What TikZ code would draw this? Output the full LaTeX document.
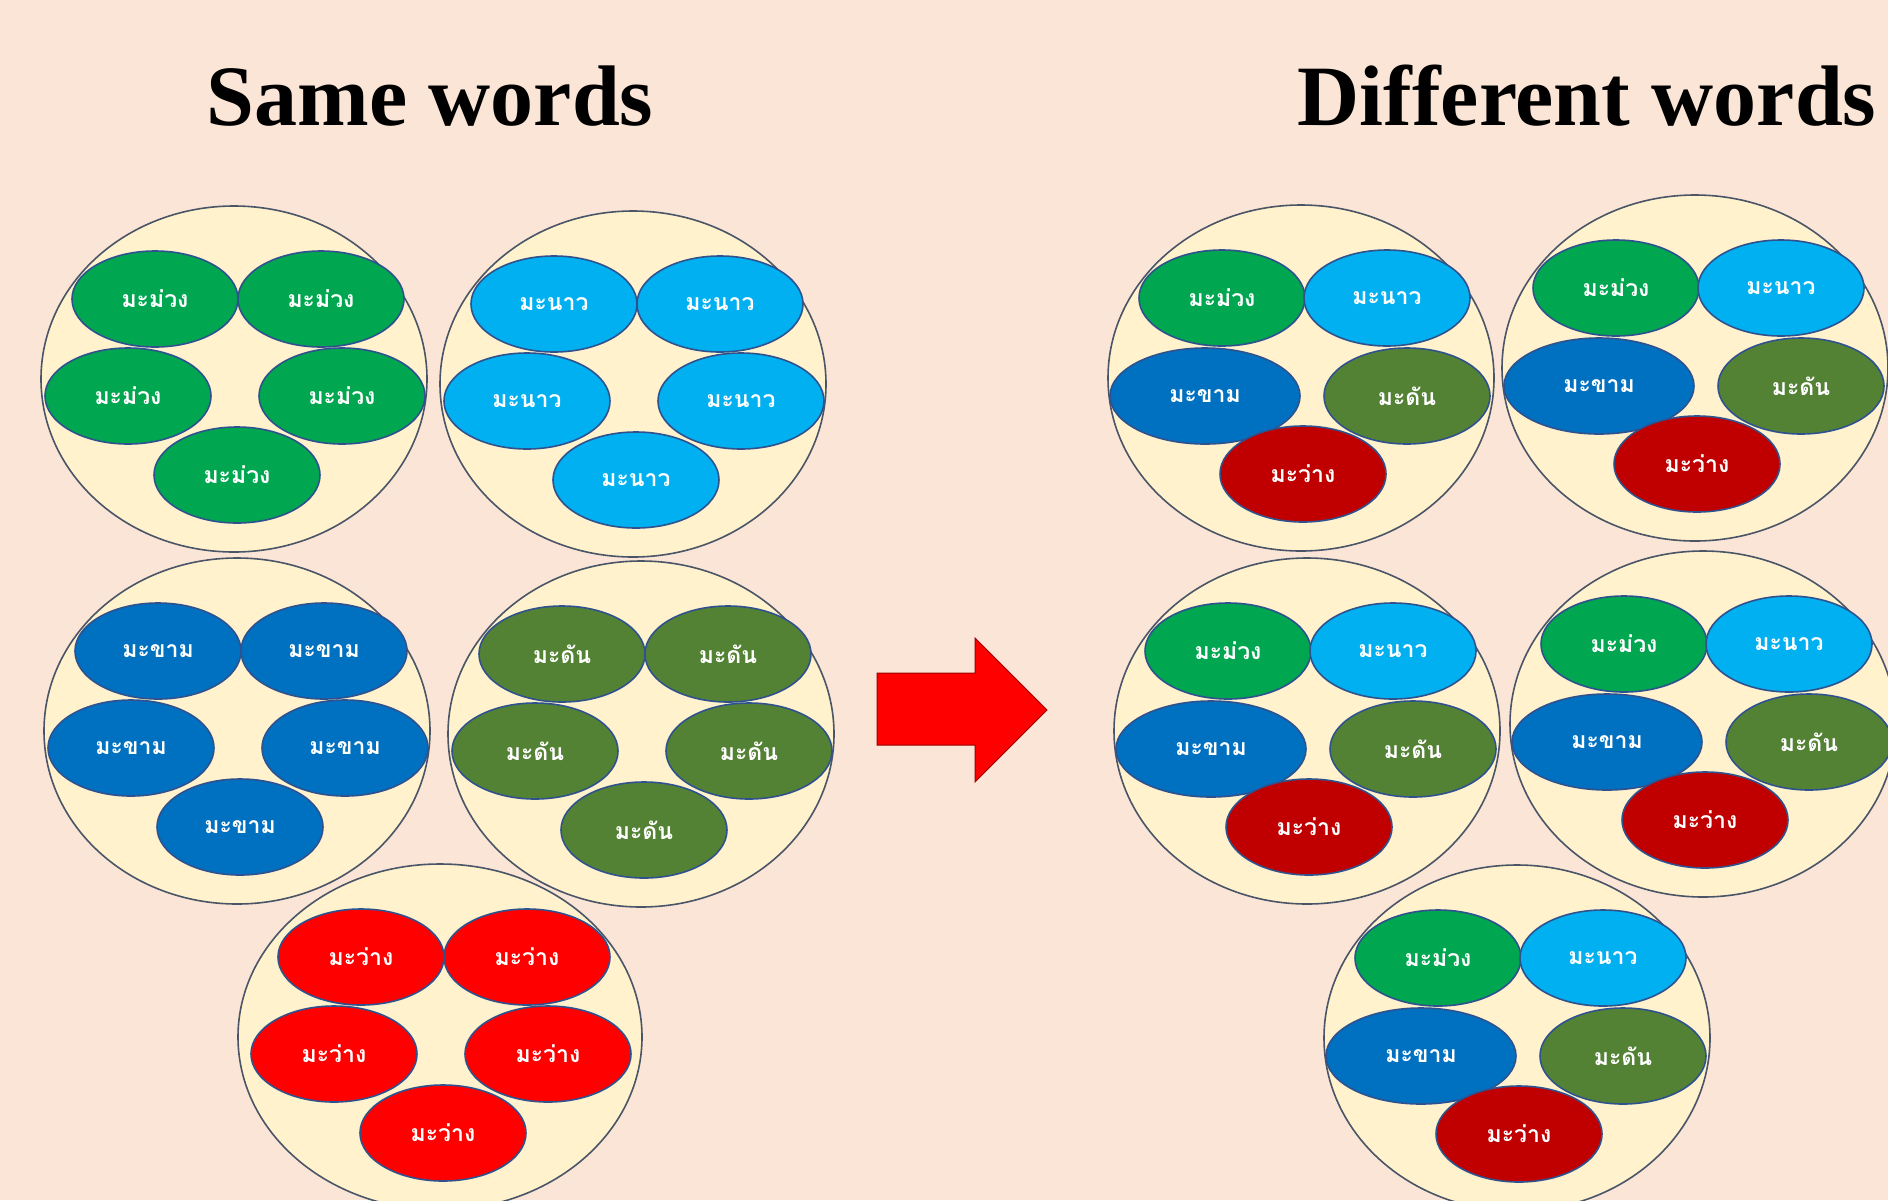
\documentclass[tikz,border=0pt]{standalone}
\usepackage{fontspec}
\setmainfont{Liberation Serif}
\newfontfamily\thaifont[Script=Thai]{Loma}
\usepackage{xcolor}
\usetikzlibrary{shapes.geometric}

\definecolor{pagebg}{HTML}{FBE5D6}
\definecolor{cream}{HTML}{FFF2CC}
\definecolor{groupline}{HTML}{4A5568}
\definecolor{fruitline}{HTML}{2F528F}
\definecolor{mango}{HTML}{00A650}
\definecolor{lime}{HTML}{00B0F0}
\definecolor{tamarind}{HTML}{0070C0}
\definecolor{madan}{HTML}{548235}
\definecolor{plum}{HTML}{FF0000}
\definecolor{darkplum}{HTML}{C00000}

\begin{document}
\begin{tikzpicture}[
  x=1pt, y=-1pt,
  every node/.style={inner sep=0pt},
  group/.style={ellipse, draw=groupline, line width=1.6pt, fill=cream, minimum width=386pt, minimum height=346pt},
  fruit/.style={ellipse, draw=fruitline, line width=1.6pt, minimum width=166pt, minimum height=96pt, text=white, font=\thaifont\bfseries\fontsize{23}{26}\selectfont},
  title/.style={font=\fontsize{86}{90}\selectfont\bfseries},
  shiftarrow/.style={fill=plum, draw=darkplum!80!black, line width=1pt},
]

\useasboundingbox (0,0) rectangle (1888,1200);
\fill[pagebg] (0,0) rectangle (1888,1200);

\node[title] (same) at (430,96) {Same words};
\node[title] (diff) at (1587,96) {Different words};

% groups of one word
\foreach \g/\cx/\cy/\clr/\word/\gw in {1/234/379/mango/มะม่วง/386, 2/633/384/lime/มะนาว/386, 3/237/731/tamarind/มะขาม/386, 4/641/734/madan/มะดัน/386, 5/440/1037/plum/มะว่าง/404} {
  \node[group, minimum width=\gw pt] (same\g) at (\cx,\cy) {};
  \node[fruit, fill=\clr] (same\g-a) at ({\cx-79},{\cy-80}) {\word};
  \node[fruit, fill=\clr] (same\g-b) at ({\cx+87},{\cy-80}) {\word};
  \node[fruit, fill=\clr] (same\g-c) at ({\cx-106},{\cy+17}) {\word};
  \node[fruit, fill=\clr] (same\g-d) at ({\cx+108},{\cy+17}) {\word};
  \node[fruit, fill=\clr] (same\g-e) at ({\cx+3},{\cy+96}) {\word};
}

% groups of mixed words
\foreach \g/\cx/\cy in {1/1301/378, 2/1695/368, 3/1307/731, 4/1703/724, 5/1517/1038} {
  \node[group] (mix\g) at (\cx,\cy) {};
  \node[fruit, fill=mango] (mix\g-a) at ({\cx-79},{\cy-80}) {มะม่วง};
  \node[fruit, fill=lime] (mix\g-b) at ({\cx+86},{\cy-80}) {มะนาว};
  \node[fruit, fill=tamarind, minimum width=190pt] (mix\g-c) at ({\cx-96},{\cy+18}) {มะขาม};
  \node[fruit, fill=madan] (mix\g-d) at ({\cx+106},{\cy+18}) {มะดัน};
  \node[fruit, fill=darkplum] (mix\g-e) at ({\cx+2},{\cy+96}) {มะว่าง};
}

\draw[shiftarrow] (877,673) -- (975,673) -- (975,638) -- (1047,710) -- (975,782) -- (975,745) -- (877,745) -- cycle;

\end{tikzpicture}
\end{document}
